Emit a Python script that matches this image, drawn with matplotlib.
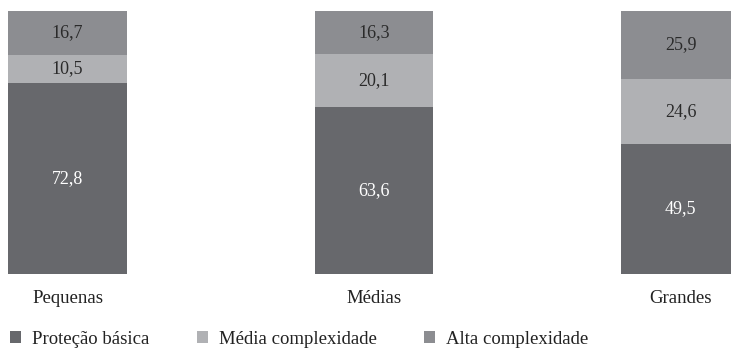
import numpy as np
import matplotlib.pyplot as plt

# porte dos municipios
categorias = ['Pequenas', 'Médias', 'Grandes']
basica = [72.8, 63.6, 49.5]
media = [10.5, 20.1, 24.6]
alta = [16.7, 16.3, 25.9]
series = ['Proteção básica', 'Média complexidade', 'Alta complexidade']

cores = ['#67686c', '#b0b1b4', '#8c8d91']
cor_texto = ['white', '#2a2a2a', '#2a2a2a']

plt.rcParams['font.family'] = ['Liberation Serif', 'DejaVu Serif']

fig = plt.figure(figsize=(7.31, 3.49), dpi=100)
ax = fig.add_axes([0, 1 - 274 / 349, 1, 263 / 349])

x = np.arange(len(categorias))
largura = 0.385
base = np.zeros(len(categorias))
for vals, nome, cor, ct in zip([basica, media, alta], series, cores, cor_texto):
    vals = np.array(vals)
    ax.bar(x, vals, largura, bottom=base, color=cor, label=nome)
    for xi, b, v in zip(x, base, vals):
        ax.text(xi, b + v / 2, ('%.1f' % v).replace('.', ','), ha='center',
                va='center', color=ct, fontsize=13)
    base += vals

ax.set_xlim(-67.5 / 306.5, (731 - 67.5) / 306.5)
ax.set_ylim(0, 100)
ax.axis('off')

for xi, c in zip(x, categorias):
    ax.text(xi, -9.3, c, ha='center', va='center', fontsize=13.5, color='#222222')

leg = fig.legend(loc='center left', bbox_to_anchor=(10 / 731, 1 - 339 / 349), ncol=3,
                 frameon=False, fontsize=13.5, handlelength=0.6, handleheight=0.6,
                 handletextpad=0.6, columnspacing=2.5, borderaxespad=0, borderpad=0)
for t in leg.get_texts():
    t.set_color('#222222')

fig.savefig('out.png', dpi=100)
